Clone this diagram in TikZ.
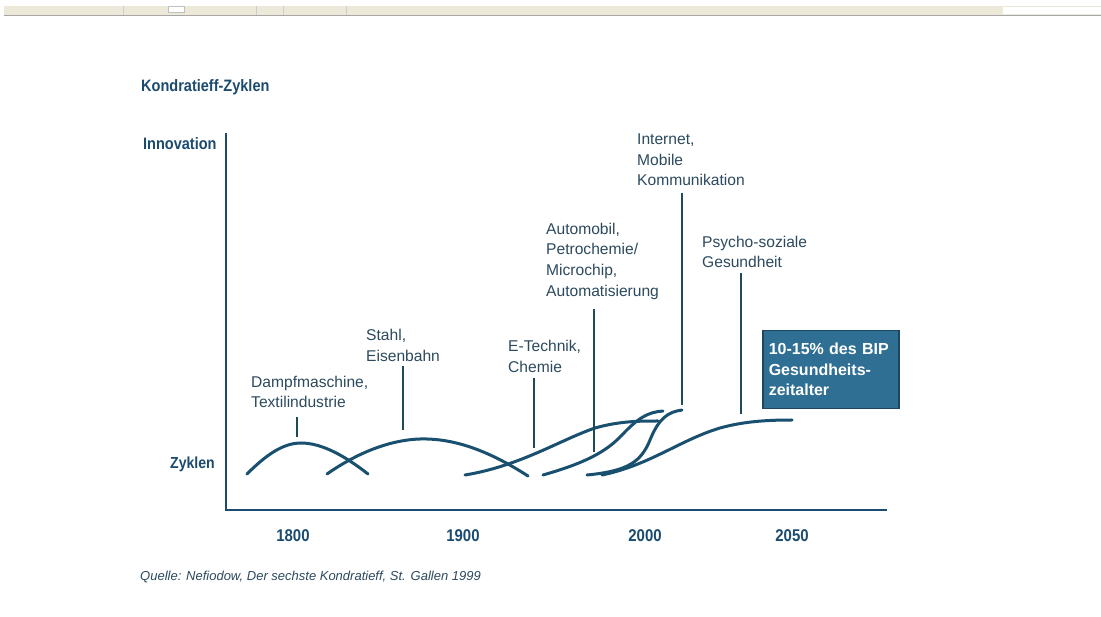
\documentclass[tikz,border=0pt]{standalone}
\usepackage{fontspec}
\setmainfont{Liberation Sans}
\newfontfamily\narrowbold[FakeStretch=0.88]{Liberation Sans}
\definecolor{inkblue}{HTML}{1B4B6E}
\definecolor{labelgray}{HTML}{2C4A5E}
\definecolor{curveblue}{HTML}{19506F}
\definecolor{pointer}{HTML}{1E4A58}
\definecolor{boxfill}{HTML}{2F6F94}
\definecolor{boxedge}{HTML}{1E4660}
\definecolor{barbeige}{HTML}{ECE9D8}
\begin{document}
\begin{tikzpicture}[x=1pt,y=-1pt,
  heading/.style={inner sep=0pt,anchor=base west,text=inkblue,font=\narrowbold\bfseries\fontsize{16.5}{18}\selectfont},
  yearlabel/.style={inner sep=0pt,anchor=base,text=inkblue,font=\narrowbold\bfseries\fontsize{17}{18}\selectfont},
  eralabel/.style={inner sep=0pt,anchor=north west,align=left,text=labelgray,font=\fontsize{15.6}{20.7}\selectfont},
  cycle/.style={draw=curveblue,line width=3pt,line cap=round},
  marker/.style={draw=pointer,line width=2.2pt},
  axis/.style={draw=inkblue,line width=2.8pt}]
\useasboundingbox (0,0) rectangle (1101,617);
\fill[white] (0,0) rectangle (1101,617);

% window toolbar strip along the top edge
\fill[barbeige] (4,6) rectangle (1101,15);
\draw[gray!70,line width=1pt] (4,15.5) -- (1101,15.5);
\fill[white] (1003,7) rectangle (1101,14);
\fill[white,draw=gray!50] (168,6.5) rectangle (184,12);
\foreach \sx in {123,256,283,346}
  \draw[gray!40,line width=0.6pt] (\sx,6) -- (\sx,15);

% title and axis labels
\node[heading] (title) at (141,92) {Kondratieff-Zyklen};
\node[heading] (innov) at (143,150) {Innovation};
\node[heading,font=\narrowbold\bfseries\fontsize{16}{18}\selectfont] (zyk) at (170,468) {Zyklen};

% axes
\coordinate (ytop) at (226,133);
\coordinate (origin) at (226,510);
\coordinate (xend) at (887,510);
\draw[axis] (ytop) -- (origin) -- (xend);

% years
\node[yearlabel] (y1800) at (293,541) {1800};
\node[yearlabel] (y1900) at (463,541) {1900};
\node[yearlabel] (y2000) at (645,541) {2000};
\node[yearlabel] (y2050) at (792,541) {2050};

% source line
\node[inner sep=0pt,anchor=base west,text=labelgray,font=\itshape\fontsize{13}{16}\selectfont] (src) at (140,580)
  {Quelle: Nefiodow, Der sechste Kondratieff, St. Gallen 1999};

% long waves
\draw[cycle] (247,474) .. controls (266,455) and (283,443) .. (301,443)
  .. controls (322,443) and (345,456) .. (368,474);
\draw[cycle] (327,474) .. controls (360,451) and (395,438) .. (427,439)
  .. controls (465,440) and (500,458) .. (528,476);
\draw[cycle] (465,475) .. controls (520,466) and (560,440) .. (595,428)
  .. controls (620,421) and (640,421) .. (658,421);
\draw[cycle] (543,475) .. controls (585,463) and (606,452) .. (622,435)
  .. controls (638,418) and (648,412) .. (663,411);
\draw[cycle] (587,475) .. controls (628,471) and (641,462) .. (650,440)
  .. controls (659,418) and (668,412) .. (682,410);
\draw[cycle] (602,475) .. controls (650,465) and (680,440) .. (720,428)
  .. controls (745,421) and (770,420) .. (792,420);

% innovation labels
\node[eralabel] (dampf) at (251,375.5) {Dampfmaschine,\\Textilindustrie};
\node[eralabel] (stahl) at (366,329) {Stahl,\\Eisenbahn};
\node[eralabel] (etech) at (508,340) {E-Technik,\\Chemie};
\node[eralabel] (auto) at (546,222.5) {Automobil,\\Petrochemie/\\Microchip,\\Automatisierung};
\node[eralabel] (inet) at (637,133.5) {Internet,\\Mobile\\Kommunikation};
\node[eralabel] (psycho) at (702,235.5) {Psycho-soziale\\Gesundheit};

% pointers from labels down to the waves
\coordinate (dampfT) at (297,417); \coordinate (dampfB) at (297,437);
\coordinate (stahlT) at (403,366); \coordinate (stahlB) at (403,430);
\coordinate (etechT) at (534,378); \coordinate (etechB) at (534,448);
\coordinate (autoT) at (594,309); \coordinate (autoB) at (594,452);
\coordinate (inetT) at (682,193); \coordinate (inetB) at (682,405);
\coordinate (psychoT) at (741,273); \coordinate (psychoB) at (741,414);
\draw[marker] (dampfT) -- (dampfB);
\draw[marker] (stahlT) -- (stahlB);
\draw[marker] (etechT) -- (etechB);
\draw[marker] (autoT) -- (autoB);
\draw[marker] (inetT) -- (inetB);
\draw[marker] (psychoT) -- (psychoB);

% highlighted box
\node[anchor=north west,fill=boxfill,draw=boxedge,line width=1.5pt,
  minimum width=136pt,minimum height=78pt,inner xsep=6pt,inner ysep=0pt,
  text width=124pt,align=left,text=white,
  font=\bfseries\fontsize{16}{20.5}\selectfont] (bip) at (762,330)
  {10-15\% des BIP\\Gesundheits-\\zeitalter};
\end{tikzpicture}
\end{document}
